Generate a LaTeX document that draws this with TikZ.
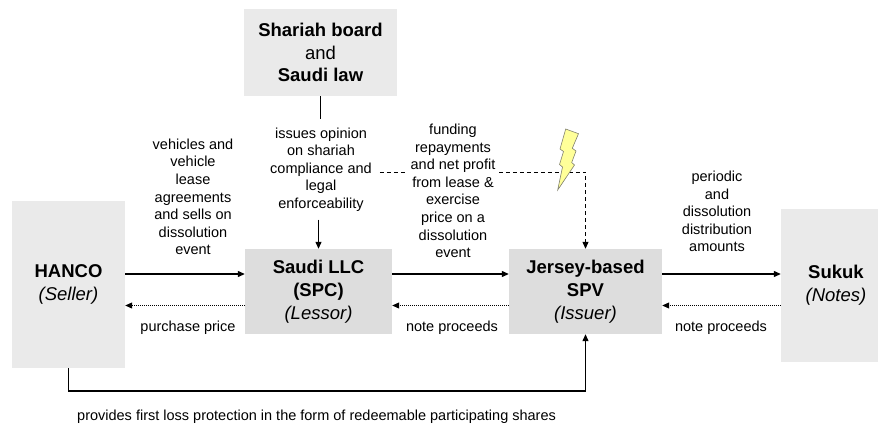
\documentclass[tikz,border=0pt]{standalone}
\usepackage{fontspec}
\setmainfont{Liberation Sans}
\usepackage{tikz}
\usetikzlibrary{arrows.meta}
\definecolor{boxlight}{RGB}{234,234,234}
\definecolor{boxdark}{RGB}{221,221,221}
\definecolor{boltfill}{RGB}{255,255,153}
\definecolor{boltline}{RGB}{128,128,110}

\begin{document}
\begin{tikzpicture}[x=1pt, y=-1pt,
                    box/.style = {shape=rectangle, align=center, inner sep=0pt,
                                  font=\fontsize{18.5}{22.8}\selectfont},
                    lbl/.style = {align=center, inner sep=2pt,
                                  font=\fontsize{14.5}{17.6}\selectfont},
                    flow/.style = {line width=1.2pt, -{Triangle[length=7pt,width=6pt]}},
                    back/.style = {line width=0.9pt, dash pattern=on 1pt off 1pt,
                                   -{Triangle[length=7pt,width=6pt]}},
                    cond/.style = {line width=1pt, dash pattern=on 4pt off 3pt,
                                   -{Triangle[length=7pt,width=6pt]}}]

  \useasboundingbox (0,0) rectangle (878,423);

  % parties
  \node[box, fill=boxlight, minimum width=153pt, minimum height=87pt] (board) at (320.5,52.5)
    {\textbf{Shariah board}\\and\\\textbf{Saudi law}};
  \node[box, fill=boxlight, minimum width=113pt, minimum height=167pt] (hanco) at (68.5,284.5)
    {\textbf{HANCO}\\\textit{(Seller)}};
  \node[box, fill=boxdark, minimum width=147pt, minimum height=85pt] (llc) at (318.5,291.5)
    {\textbf{Saudi LLC}\\\textbf{(SPC)}\\\textit{(Lessor)}};
  \node[box, fill=boxdark, minimum width=153pt, minimum height=85pt] (spv) at (585.5,291.5)
    {\textbf{Jersey-based}\\\textbf{SPV}\\\textit{(Issuer)}};
  \node[box, fill=boxlight, minimum width=110pt, minimum height=153pt] (sukuk) at (836,285.5)
    {\textbf{Sukuk}\\\textit{(Notes)}};

  \coordinate (fwd) at (0,274);
  \coordinate (ret) at (0,305.5);
  \coordinate (low) at (0,391);
  \coordinate (dash) at (0,172);

  % opinion from the board
  \node[lbl, inner sep=8pt] (opinion) at (321,169.5)
    {issues opinion\\on shariah\\compliance and\\legal\\enforceability};
  \draw[line width=1.2pt] (board.south) -- (board.south |- opinion.north);
  \draw[flow] (llc.north |- opinion.south) -- (llc.north);

  % dissolution path
  \draw[cond] (opinion.east |- dash) -| (spv.north);
  \node[lbl, fill=white, inner sep=4pt] (funding) at (453,191)
    {funding\\repayments\\and net profit\\from lease \&\\exercise\\price on a\\dissolution\\event};
  \draw[fill=boltfill, draw=boltline, line width=0.6pt]
    (565.7,129) -- (578.5,133.7) -- (572.3,148.3) -- (576,151) -- (571.7,162.5)
    -- (574.5,165) -- (557.7,190) -- (562.5,167) -- (559.5,164.5) -- (563.5,151.5)
    -- (560,149) -- cycle;

  % forward flows
  \draw[flow] (hanco.east |- fwd) -- (llc.west |- fwd);
  \draw[flow] (llc.east |- fwd) -- (spv.west |- fwd);
  \draw[flow] (spv.east |- fwd) -- (sukuk.west |- fwd);
  \node[lbl] (sells) at (193,197)
    {vehicles and\\vehicle\\lease\\agreements\\and sells on\\dissolution\\event};
  \node[lbl] (periodic) at (717,211.5)
    {periodic\\and\\dissolution\\distribution\\amounts};

  % return flows
  \draw[back] (llc.west |- ret) -- (hanco.east |- ret);
  \draw[back] (spv.west |- ret) -- (llc.east |- ret);
  \draw[back] (sukuk.west |- ret) -- (spv.east |- ret);
  \node[lbl] (price) at (188,328) {purchase price};
  \node[lbl] (proceedsa) at (452,328) {note proceeds};
  \node[lbl] (proceedsb) at (721,328) {note proceeds};

  % first loss protection
  \draw[flow] (hanco.south) -- (hanco.south |- low) -| (spv.south);
  \node[lbl, anchor=west] (loss) at (75,417)
    {provides first loss protection in the form of redeemable participating shares};
\end{tikzpicture}
\end{document}
